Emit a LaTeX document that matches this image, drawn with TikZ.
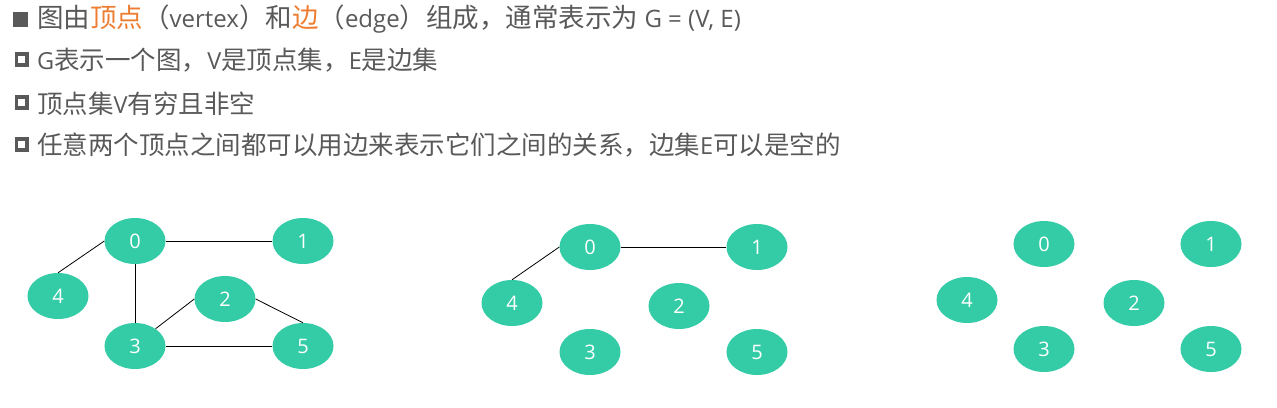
\documentclass[tikz,border=0pt]{standalone}
\usepackage{fontspec}
\usetikzlibrary{shapes.geometric}
\newfontfamily\cjk{Noto Sans CJK SC}
\newfontfamily\numfont{Open Sans}
\newcommand{\lat}[1]{{\numfont\fontsize{23.5}{25}\selectfont #1}}
\newcommand{\latb}[1]{{\numfont\fontsize{24}{25}\selectfont #1}}
\definecolor{txtgray}{HTML}{595959}
\definecolor{accent}{HTML}{ED7D31}
\definecolor{vfill}{RGB}{51,204,166}
\begin{document}
\begin{tikzpicture}[x=1pt,y=-1pt,
  vtx/.style={ellipse,fill=vfill,draw=none,minimum width=61pt,minimum height=46pt,inner sep=0pt,text=white,font=\numfont\fontsize{20}{20}\selectfont},
  edg/.style={draw=black,line width=0.8pt},
  line/.style={anchor=base west,inner sep=0pt,text=txtgray,font=\cjk\fontsize{25.5}{25.5}\selectfont},
  hollow/.style={draw=txtgray,line width=3.6pt}]
\useasboundingbox (0,0) rectangle (1277,407);
% bullets
\fill[txtgray] (13,12) rectangle (28,27);
\draw[hollow] (16.5,53.7) rectangle (26.9,64.7);
\draw[hollow] (16.5,96.7) rectangle (26.9,107.7);
\draw[hollow] (16.5,138.7) rectangle (26.9,149.7);
% text lines
\node[line,font=\cjk\fontsize{26.5}{26.5}\selectfont] (t1) at (37,27) {图由\textcolor{accent}{顶点}（\latb{vertex}）和\textcolor{accent}{边}（\latb{edge}）组成，通常表示为\latb{ G = (V, E)}};
\node[line] (t2) at (37,69) {\lat{G}表示一个图，\lat{V}是顶点集，\lat{E}是边集};
\node[line] (t3) at (37,113) {顶点集\lat{V}有穷且非空};
\node[line] (t4) at (37,154) {任意两个顶点之间都可以用边来表示它们之间的关系，边集\lat{E}可以是空的};
% graph 1
\node[vtx] (a0) at (135,241) {0};
\node[vtx] (a1) at (303,241) {1};
\node[vtx] (a4) at (58,296) {4};
\node[vtx] (a2) at (225,299) {2};
\node[vtx] (a3) at (135,346) {3};
\node[vtx] (a5) at (303,346) {5};
\draw[edg] (a0.east) -- (a1.west);
\draw[edg] (a0.west) -- (a4.north);
\draw[edg] (a0.south) -- (a3.north);
\draw[edg] (a3.40) -- (a2.west);
\draw[edg] (a2.east) -- (a5.north);
\draw[edg] (a3.east) -- (a5.west);
% graph 2
\node[vtx] (b0) at (590,247) {0};
\node[vtx] (b1) at (757,247) {1};
\node[vtx] (b4) at (512,303) {4};
\node[vtx] (b2) at (679,306) {2};
\node[vtx] (b3) at (590,352) {3};
\node[vtx] (b5) at (757,352) {5};
\draw[edg] (b0.east) -- (b1.west);
\draw[edg] (b0.west) -- (b4.north);
% graph 3
\node[vtx] (c0) at (1044,244) {0};
\node[vtx] (c1) at (1211,244) {1};
\node[vtx] (c4) at (967,300) {4};
\node[vtx] (c2) at (1134,303) {2};
\node[vtx] (c3) at (1044,349) {3};
\node[vtx] (c5) at (1211,349) {5};
\end{tikzpicture}
\end{document}
